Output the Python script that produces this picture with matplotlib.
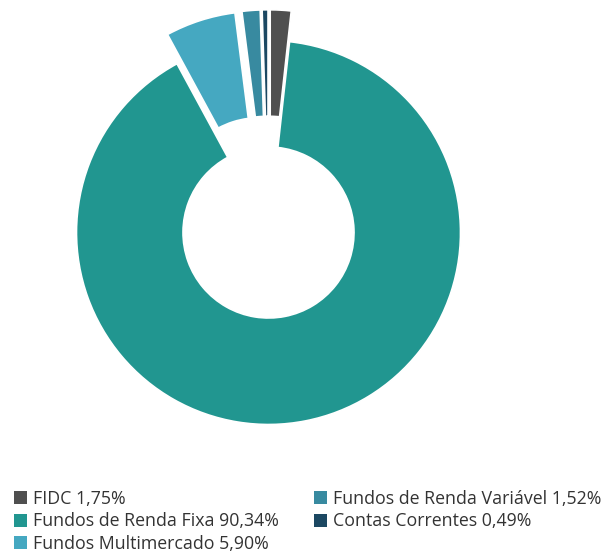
import matplotlib
matplotlib.use("Agg")
import matplotlib.pyplot as plt
from matplotlib.patches import Patch

plt.rcParams['font.family'] = ['Open Sans', 'DejaVu Sans']

labels = ['FIDC', 'Fundos de Renda Fixa', 'Fundos Multimercado',
          'Fundos de Renda Variável', 'Contas Correntes']
values = [1.75, 90.34, 5.90, 1.52, 0.49]
colors = ['#4f4f4f', '#219690', '#45a8c1', '#388aa0', '#1c4862']
explode = [0.16, 0, 0.16, 0.16, 0.16]

fig = plt.figure(figsize=(6.06, 5.51), dpi=100)
# axes in pixels: centre (268.5, 232.5), radius 192 px
half = 250
ax = fig.add_axes([(268.5 - half) / 606, (551 - 232.5 - half) / 551,
                   2 * half / 606, 2 * half / 551])
lim = half / 192
ax.pie(values, colors=colors, explode=explode, startangle=90,
       counterclock=False, radius=1,
       wedgeprops=dict(width=1 - 85.5 / 192, edgecolor='white', linewidth=1.2))
ax.set_xlim(-lim, lim)
ax.set_ylim(-lim, lim)
ax.set_aspect('equal')
ax.axis('off')

handles = [Patch(facecolor=c, edgecolor='none') for c in colors]
texts = ['{} {}%'.format(l, ('%.2f' % v).replace('.', ',')) for l, v in zip(labels, values)]

leg_kw = dict(loc='upper left', frameon=False, fontsize=12.8, handlelength=0.73,
              handleheight=0.73, handletextpad=0.36, labelspacing=0.25,
              borderpad=0, borderaxespad=0, labelcolor='#333333')
fig.legend(handles[:3], texts[:3], bbox_to_anchor=(14 / 606, 1 - 490 / 551), **leg_kw)
fig.legend(handles[3:], texts[3:], bbox_to_anchor=(314 / 606, 1 - 490 / 551), **leg_kw)

fig.savefig('out.png', dpi=100)
